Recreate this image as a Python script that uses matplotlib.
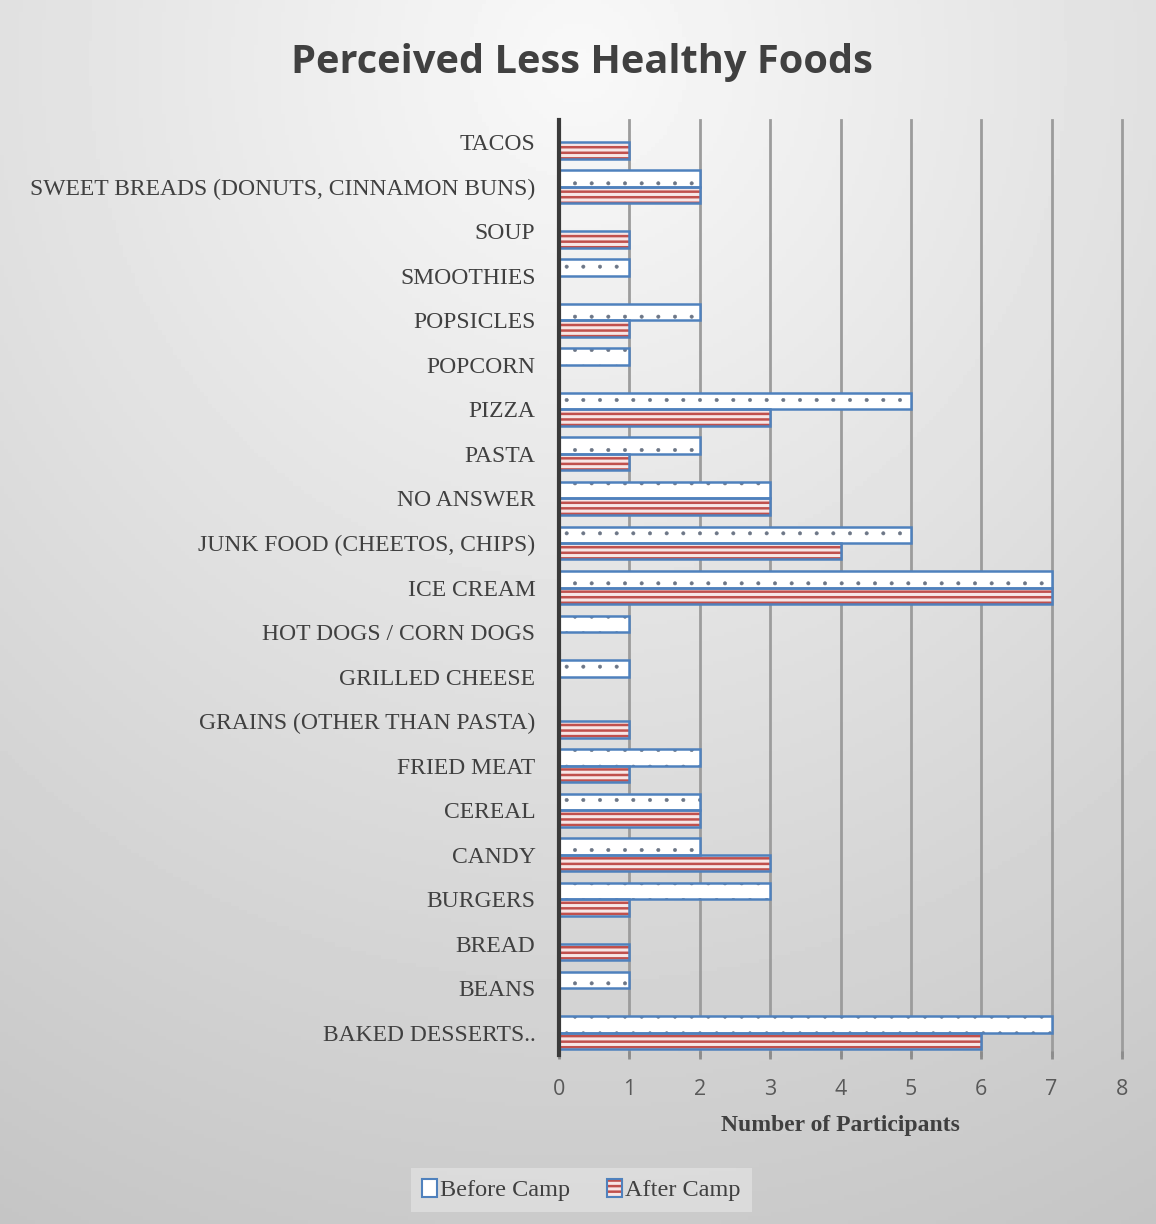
import numpy as np
import matplotlib
matplotlib.use('Agg')
import matplotlib.pyplot as plt
from matplotlib.patches import Patch
from matplotlib.legend_handler import HandlerTuple

# categories listed bottom to top, as drawn
foods = ["BAKED DESSERTS..", "BEANS", "BREAD", "BURGERS", "CANDY", "CEREAL",
         "FRIED MEAT", "GRAINS (OTHER THAN PASTA)", "GRILLED CHEESE",
         "HOT DOGS / CORN DOGS", "ICE CREAM", "JUNK FOOD (CHEETOS, CHIPS)",
         "NO ANSWER", "PASTA", "PIZZA", "POPCORN", "POPSICLES", "SMOOTHIES",
         "SOUP", "SWEET BREADS (DONUTS, CINNAMON BUNS)", "TACOS"]
before_camp = [7, 1, 0, 3, 2, 2, 2, 0, 1, 1, 7, 5, 3, 2, 5, 1, 2, 1, 0, 2, 0]
after_camp = [6, 0, 1, 1, 3, 2, 1, 1, 0, 0, 7, 4, 3, 1, 3, 0, 1, 0, 1, 2, 1]
x_ticks = [0, 1, 2, 3, 4, 5, 6, 7, 8]

EDGE = "#4f81bd"
RED = "#c0504d"
PINK = "#f7e6e6"
TXT = "#404040"


def hatch_lw(bars, lw):
    for b in bars:
        if hasattr(b, "set_hatch_linewidth"):
            b.set_hatch_linewidth(lw)


fig = plt.figure(figsize=(11.56, 12.24), dpi=100)

# radial grey background
bg = fig.add_axes([0, 0, 1, 1], zorder=-10)
gx, gy = np.meshgrid(np.linspace(0, 1, 300), np.linspace(0, 1, 300))
r = np.sqrt((gx - 0.5) ** 2 + (gy - 0.05) ** 2)
shade = np.clip(0.975 - 0.19 * r, 0.76, 1.0)
bg.imshow(shade, cmap="gray", vmin=0, vmax=1, extent=[0, 1, 0, 1],
          aspect="auto", origin="upper")
bg.set_xlim(0, 1)
bg.set_ylim(0, 1)
bg.axis("off")

ax = fig.add_axes([0.4836, 0.138, 0.487, 0.764])
ax.patch.set_alpha(0)

y = np.arange(len(foods))
h = 0.37

plt.rcParams['hatch.linewidth'] = 0.4
b1 = ax.barh(y + h / 2, before_camp, height=h, color="white", hatch=".",
             edgecolor="#6c7686", linewidth=0, zorder=3)
hatch_lw(b1, 0.4)
ax.barh(y + h / 2, before_camp, height=h, fill=False, edgecolor=EDGE,
        linewidth=1.8, zorder=4)

plt.rcParams['hatch.linewidth'] = 1.8
b2 = ax.barh(y - h / 2, after_camp, height=h, color=PINK, hatch="---",
             edgecolor=RED, linewidth=0, zorder=3)
hatch_lw(b2, 1.8)
ax.barh(y - h / 2, after_camp, height=h, fill=False, edgecolor=EDGE,
        linewidth=1.8, zorder=4)

ax.set_xlim(0, 8)
ax.set_ylim(-0.5, len(foods) - 0.5)
ax.set_xticks(x_ticks)
ax.set_yticks(y)
ax.set_yticklabels(foods, fontfamily="Liberation Serif", fontsize=17, color=TXT)
for lab in ax.get_xticklabels():
    lab.set_fontfamily("Open Sans")
ax.tick_params(axis="x", labelsize=15.5, labelcolor="#595959", color="#8c8c8c",
               length=6, width=2, pad=14, direction="inout")
ax.tick_params(axis="y", length=0, pad=17)
ax.grid(axis="x", color="#9c9c9c", linewidth=2, zorder=0)
for gl in ax.get_xgridlines():
    gl.set_clip_on(False)
ax.set_axisbelow(True)
for s in ["top", "right", "bottom"]:
    ax.spines[s].set_visible(False)
ax.spines["left"].set_color("#3a3a3a")
ax.spines["left"].set_linewidth(3)
ax.spines["left"].set_zorder(5)

ax.set_xlabel("Number of Participants", fontfamily="Liberation Serif",
              fontweight="bold", fontsize=17, color=TXT, labelpad=11)

fig.text(0.5035, 0.9487, "Perceived Less Healthy Foods", ha="center", va="center",
         fontfamily="Open Sans", fontweight="bold", fontsize=28.6, color=TXT)

h_before = Patch(facecolor="white", edgecolor=EDGE, linewidth=1.5)
h_after_fill = Patch(facecolor=PINK, edgecolor=RED, hatch="---", linewidth=0)
h_after_edge = Patch(fill=False, edgecolor=EDGE, linewidth=1.5)
leg = fig.legend([h_before, (h_after_fill, h_after_edge)],
                 ["Before Camp", "After Camp"], loc="center",
                 handler_map={tuple: HandlerTuple(ndivide=1, pad=0)},
                 bbox_to_anchor=(0.503, 0.0278), ncol=2, frameon=True,
                 prop={"family": "Liberation Serif", "size": 17.5},
                 handlelength=0.6, handleheight=0.8, handletextpad=0.15,
                 columnspacing=1.5, borderpad=0.45, fancybox=False)
leg.get_frame().set_facecolor("#e0e0e0")
leg.get_frame().set_edgecolor("none")
for t in leg.get_texts():
    t.set_color(TXT)

fig.savefig("out.png", dpi=100)
